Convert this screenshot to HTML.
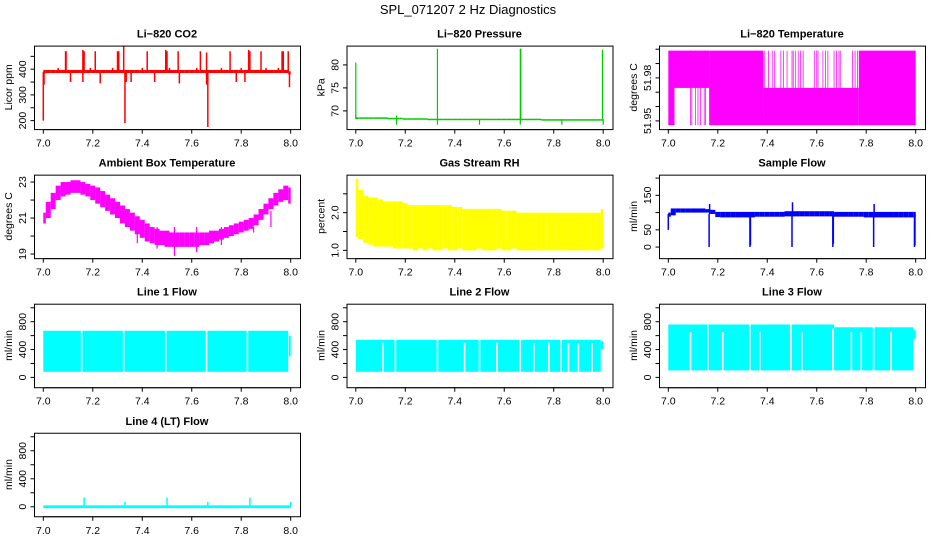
<!DOCTYPE html>
<html><head><meta charset="utf-8">
<style>
html,body{margin:0;padding:0;background:#fff;overflow:hidden;width:936px;height:540px;}
svg{display:block;font-family:"Liberation Sans",Arial,sans-serif;}
</style></head>
<body>
<svg id="chart" width="936" height="540" viewBox="0 0 936 540" xmlns="http://www.w3.org/2000/svg">
<rect width="936" height="540" fill="#fff"/>
<text x="468" y="14" text-anchor="middle" font-size="13">SPL_071207  2 Hz Diagnostics</text>
</svg>
<script>
// ---------- data (bins at x = 7.00 + i*0.02) ----------
const xTicks = [7.0, 7.2, 7.4, 7.6, 7.8, 8.0];
const xTickLabels = ["7.0", "7.2", "7.4", "7.6", "7.8", "8.0"];

const co2Lo = [384,385,385,385,385,385,385,385,385,385,385,385,385,385,385,385,385,385,385,385,385,385,385,385,385,385,385,385,385,385,385,385,385,385,385,385,385,385,385,385,385,385,385,385,385,385,385,385,385,385,380];
const co2Hi = [397,397,397,397,397,397,397,397,397,397,397,397,397,397,397,397,397,397,397,397,397,397,397,397,397,397,397,397,397,397,397,397,397,397,397,397,397,397,397,397,397,397,397,397,397,397,397,397,397,397,392];
const co2SpikeX = [7.09,7.092,7.16,7.165,7.21,7.30,7.305,7.325,7.42,7.495,7.50,7.545,7.635,7.66,7.755,7.83,7.835,7.88,7.965,7.97,7.99,7.0,7.003,7.33,7.335,7.665,7.66,7.11,7.16,7.23,7.355,7.45,7.55,7.78,7.815,7.995,7.06,7.19,7.28,7.40,7.51,7.62,7.72,7.80,7.90,7.95];
const co2SpikeV = [470,470,475,470,470,470,470,490,470,475,470,470,470,465,470,475,470,470,470,470,470,200,340,190,350,175,340,350,350,345,350,350,345,350,350,330,405,405,405,405,405,405,405,405,405,405];

const presHi = [68.6,68.6,68.6,68.6,68.6,68.6,68.6,68.5,68.5,68.5,68.4,68.4,68.4,68.4,68.4,68.3,68.3,68.3,68.3,68.3,68.3,68.3,68.3,68.3,68.3,68.3,68.3,68.3,68.3,68.3,68.3,68.3,68.3,68.3,68.3,68.3,68.3,68.3,68.2,68.2,68.2,68.2,68.2,68.2,68.2,68.2,68.2,68.2,68.2,68.2,68.2];
const presLo = [68.2,68.3,68.3,68.3,68.3,68.3,68.3,68.2,68.2,68.2,68.1,68.1,68.1,68.1,68.1,68.0,68.0,68.0,68.0,68.0,68.0,68.0,68.0,68.0,68.0,68.0,68.0,68.0,68.0,68.0,68.0,68.0,68.0,68.0,68.0,68.0,68.0,68.0,67.9,67.9,67.9,67.9,67.9,67.9,67.9,67.9,67.9,67.9,67.9,67.9,67.9];
const presSpikeX = [7.0,7.33,7.665,7.667,7.997,7.165,7.33,7.5,7.665,7.833,8.0,7.0,7.165];
const presSpikeV = [80.5,83.5,83.5,83.5,83.3,67.0,67.0,67.0,67.0,67.0,67.0,69.2,69.0];

const tempSegX0 = [7.0, 7.025, 7.165, 7.385, 7.77];
const tempSegX1 = [7.025, 7.165, 7.385, 7.77, 8.0];
const tempSegLo = [51.947, 51.973, 51.947, 51.947, 51.947];
const tempSegHi = [51.999, 51.999, 51.999, 51.973, 51.999];
const tempBarX = [7.09,7.095,7.11,7.12,7.13,7.145,7.15,7.39,7.405,7.42,7.43,7.455,7.465,7.48,7.50,7.505,7.515,7.525,7.535,7.545,7.59,7.60,7.605,7.625,7.635,7.645,7.67,7.68,7.69,7.695,7.745,7.755,7.765];
const tempBarLo = [51.947,51.947,51.947,51.947,51.947,51.947,51.947,51.973,51.973,51.973,51.973,51.973,51.973,51.973,51.973,51.973,51.973,51.973,51.973,51.973,51.973,51.973,51.973,51.973,51.973,51.973,51.973,51.973,51.973,51.973,51.973,51.973,51.973];

const ambHi = [21.3,21.9,22.4,22.8,23.0,23.0,23.1,23.1,23.0,22.9,22.8,22.7,22.5,22.3,22.1,21.9,21.7,21.5,21.3,21.1,20.9,20.7,20.5,20.4,20.3,20.3,20.2,20.2,20.2,20.2,20.2,20.2,20.2,20.2,20.3,20.3,20.4,20.5,20.6,20.7,20.8,20.9,21.0,21.2,21.5,21.8,22.1,22.4,22.6,22.8,22.7];
const ambLo = [20.7,21.0,21.5,22.0,22.2,22.3,22.4,22.4,22.3,22.2,22.0,21.8,21.6,21.4,21.2,21.0,20.7,20.5,20.3,20.1,19.9,19.7,19.6,19.5,19.5,19.4,19.4,19.4,19.4,19.4,19.4,19.4,19.5,19.5,19.6,19.7,19.8,19.9,20.0,20.1,20.2,20.3,20.4,20.6,20.9,21.2,21.5,21.7,21.9,22.0,21.8];
const ambSpikeX = [7.38,7.46,7.53,7.62,7.72,7.85,7.92];
const ambSpikeV = [19.6,19.3,18.9,19.1,19.5,20.2,21.4];

const rhHi = [2.9,2.6,2.45,2.4,2.4,2.35,2.3,2.3,2.3,2.3,2.25,2.2,2.2,2.2,2.2,2.2,2.2,2.2,2.2,2.2,2.15,2.15,2.1,2.1,2.1,2.1,2.1,2.1,2.1,2.1,2.05,2.05,2.05,2.0,2.0,2.0,2.0,2.0,2.0,2.0,2.0,2.0,2.0,2.0,2.0,2.0,2.0,2.0,2.0,2.0,2.1];
const rhLo = [1.35,1.3,1.2,1.15,1.1,1.1,1.1,1.1,1.05,1.05,1.05,1.05,1.0,1.05,1.0,1.05,1.0,1.0,1.05,1.0,1.0,1.05,1.0,1.0,1.0,1.05,1.0,1.0,1.0,1.05,1.0,1.0,1.05,1.0,1.0,1.0,1.0,1.0,1.0,1.0,1.0,1.0,1.0,1.0,1.0,1.0,1.0,1.0,1.0,1.0,1.05];

const sfHi = [100,112,112,112,112,112,112,112,110,108,102,102,102,102,102,102,102,102,102,102,102,102,102,102,104,104,104,104,104,104,104,104,104,104,102,102,102,102,102,102,102,102,102,102,102,102,102,102,102,102,102];
const sfLo = [88,92,100,100,100,100,100,100,100,96,87,86,86,86,86,86,86,86,88,88,88,88,88,88,89,89,89,89,89,89,89,89,89,89,88,88,88,88,88,88,86,86,86,86,86,86,86,86,86,86,86];
const sfSpikeX = [7.0,7.165,7.167,7.33,7.332,7.5,7.502,7.665,7.667,7.83,7.832,7.995,7.997];
const sfSpikeV = [50,0,125,0,5,0,130,0,10,0,125,0,5];

const l1Hi = 670, l1Lo = 80;
const l1GapX = [7.155,7.325,7.495,7.66,7.825];
const l1GapTop = [670,670,670,670,670];
const l2Hi = 540, l2Lo = 80;
const l2GapX = [7.11,7.16,7.33,7.44,7.50,7.57,7.665,7.72,7.78,7.83,7.86,7.90,7.955];
const l2GapTop = [500,540,540,500,540,500,540,490,500,540,490,490,490];
const l3HiA = 760, l3HiB = 720, l3Lo = 100;
const l3GapX = [7.09,7.16,7.22,7.33,7.37,7.495,7.54,7.665,7.74,7.78,7.83,7.90];
const l3GapTop = [650,750,650,760,650,760,650,700,650,650,720,650];

const l4SpikeX = [7.165,7.33,7.5,7.665,7.835,8.0];
const l4SpikeV = [130,70,130,70,130,70];

// ---------- layout ----------
const NS = "http://www.w3.org/2000/svg";
const svg = document.getElementById("chart");
function mk(tag, attrs, parent){
  const e = document.createElementNS(NS, tag);
  for (const k in attrs) e.setAttribute(k, attrs[k]);
  (parent||svg).appendChild(e);
  return e;
}
function panel(c, r, name, title, ylab, v1, o1, v2, o2, ticks, labs){
  const L = 34 + 312.5*c, T = 45.6 + 129.05*r, W = 266, H = 83.5;
  const g = mk("g", {});
  
  
  const sx = x => L + 9.3 + (x - 7) * 247.4;
  const sy = v => T + o1 + (v - v1) * (o2 - o1) / (v2 - v1);
  const clip = mk("clipPath", {id: "cp" + c + r}, g);
  mk("rect", {x: L, y: T, width: W, height: H}, clip);
  const plot = mk("g", {"clip-path": "url(#cp" + c + r + ")"}, g);
  
  
  const box = mk("rect", {x: L+0.5, y: T+0.5, width: W, height: H, fill: "none", stroke: "#000", "stroke-width": 1}, g);
  
  
  const t = mk("text", {x: L + W/2, y: T - 8, "text-anchor": "middle", "font-size": 11, "font-weight": "bold"}, g);
  t.textContent = title;
  
  
  const xb = T + H + 0.5;
  mk("line", {x1: sx(7), x2: sx(8), y1: xb, y2: xb, stroke: "#000"}, g);
  xTicks.forEach((v, i) => {
    mk("line", {x1: sx(v), x2: sx(v), y1: xb, y2: xb + 4, stroke: "#000"}, g);
    const tl = mk("text", {x: sx(v), y: xb + 17, "text-anchor": "middle", "font-size": 10.5}, g);
    tl.textContent = xTickLabels[i];
    
    
  });
  const yb = L + 0.5;
  mk("line", {x1: yb, x2: yb, y1: sy(ticks[0]), y2: sy(ticks[ticks.length-1]), stroke: "#000"}, g);
  ticks.forEach((v, i) => {
    mk("line", {x1: yb - 4, x2: yb, y1: sy(v), y2: sy(v), stroke: "#000"}, g);
    if (labs[i]) {
      const yl = mk("text", {transform: "translate(" + (L - 8) + "," + sy(v) + ") rotate(-90)", "text-anchor": "middle", "font-size": 10.5}, g);
      yl.textContent = labs[i];
      
      
    }
  });
  const ylt = mk("text", {transform: "translate(" + (L - 22) + "," + (T + H/2) + ") rotate(-90)", "text-anchor": "middle", "font-size": 10.5}, g);
  ylt.textContent = ylab;
  
  
  return {sx, sy, plot};
}
function bins(p, lo, hi, col){
  lo.forEach((l, i) => {
    const x = 7 + i*0.02;
    const a = p.sx(Math.max(7, x - 0.0101)), b = p.sx(Math.min(8, x + 0.0101));
    const y1 = p.sy(hi[i]), y2 = p.sy(l);
    const r = mk("rect", {x: a, y: Math.min(y1,y2), width: b - a, height: Math.max(1.5, Math.abs(y2-y1)), fill: col}, p.plot);
    
    
  });
}
function spikes(p, xs, vs, base, col, w){
  xs.forEach((x, i) => {
    const s = mk("line", {x1: p.sx(x), x2: p.sx(x), y1: p.sy(base), y2: p.sy(vs[i]), stroke: col, "stroke-width": w}, p.plot);
    
    
  });
}
function band(p, x0, x1, lo, hi, col){
  const r = mk("rect", {x: p.sx(x0), y: p.sy(hi), width: p.sx(x1) - p.sx(x0), height: p.sy(lo) - p.sy(hi), fill: col}, p.plot);
  
  
}
function gaps(p, xs, tops, lo){
  xs.forEach((x, i) => {
    const s = mk("line", {x1: p.sx(x), x2: p.sx(x), y1: p.sy(lo) + 1, y2: p.sy(tops[i]), stroke: "#fff", "stroke-width": 1.6}, p.plot);
    
    
  });
}

let p = panel(0,0,"co2","Li\u2212820 CO2","Licor ppm",200,75.0,400,23.6,[200,250,300,350,400,450],["200","","300","","400",""]);
spikes(p, co2SpikeX, co2SpikeV, 390, "#ff0000", 1.5);
bins(p, co2Lo, co2Hi, "#ff0000");

p = panel(1,0,"pressure","Li\u2212820 Pressure","kPa",70,65.3,80,19.3,[70,75,80],["70","75","80"]);
spikes(p, presSpikeX, presSpikeV, 68.2, "#00cc00", 1.2);
bins(p, presLo, presHi, "#00cc00");

p = panel(2,0,"li820-temperature","Li\u2212820 Temperature","degrees C",51.95,75.3,52.0,3.6,[51.95,51.96,51.97,51.98,51.99,52.0],["51.95","","","51.98","",""]);
tempSegX0.forEach((x0, i) => band(p, x0, tempSegX1[i], tempSegLo[i], tempSegHi[i], "#ff00ff"));
tempBarX.forEach((x, i) => band(p, x - 0.0015, x + 0.0015, tempBarLo[i], 51.999, "#ff00ff"));

p = panel(0,1,"ambient-temperature","Ambient Box Temperature","degrees C",19,79.4,23,7.4,[19,20,21,22,23],["19","","21","","23"]);
bins(p, ambLo, ambHi, "#ff00ff");
spikes(p, ambSpikeX, ambSpikeV, 20.5, "#ff00ff", 1.2);

p = panel(1,1,"gas-stream-rh","Gas Stream RH","percent",1.0,75.7,2.0,38.0,[1.0,1.5,2.0,2.5],["1.0","","2.0",""]);
bins(p, rhLo, rhHi, "#ffff00");

p = panel(2,1,"sample-flow","Sample Flow","ml/min",0,72.4,150,20.7,[0,50,100,150,200],["0","50","","150",""]);
spikes(p, sfSpikeX, sfSpikeV, 96, "#0000ff", 1.5);
bins(p, sfLo, sfHi, "#0000ff");

p = panel(0,2,"line-1-flow","Line 1 Flow","ml/min",0,73.7,800,18.0,[0,200,400,600,800,1000],["0","","400","","800",""]);
band(p, 7.0, 7.99, l1Lo, l1Hi, "#00ffff");
band(p, 7.993, 8.0, 300, 600, "#00ffff");
gaps(p, l1GapX, l1GapTop, l1Lo);

p = panel(1,2,"line-2-flow","Line 2 Flow","ml/min",0,73.7,800,18.0,[0,200,400,600,800,1000],["0","","400","","800",""]);
band(p, 7.0, 7.99, l2Lo, l2Hi, "#00ffff");
band(p, 7.99, 8.0, 400, 520, "#00ffff");
gaps(p, l2GapX, l2GapTop, l2Lo);

p = panel(2,2,"line-3-flow","Line 3 Flow","ml/min",0,73.7,800,18.0,[0,200,400,600,800,1000],["0","","400","","800",""]);
band(p, 7.0, 7.67, l3Lo, l3HiA, "#00ffff");
band(p, 7.67, 7.99, l3Lo, l3HiB, "#00ffff");
band(p, 7.99, 8.0, 550, 680, "#00ffff");
gaps(p, l3GapX, l3GapTop, l3Lo);

p = panel(0,3,"line-4-flow","Line 4 (LT) Flow","ml/min",0,74.0,800,18.0,[0,200,400,600,800,1000],["0","","400","","800",""]);
band(p, 7.0, 8.0, -20, 20, "#00ffff");
spikes(p, l4SpikeX, l4SpikeV, 0, "#00ffff", 1.5);
</script>
</body></html>
